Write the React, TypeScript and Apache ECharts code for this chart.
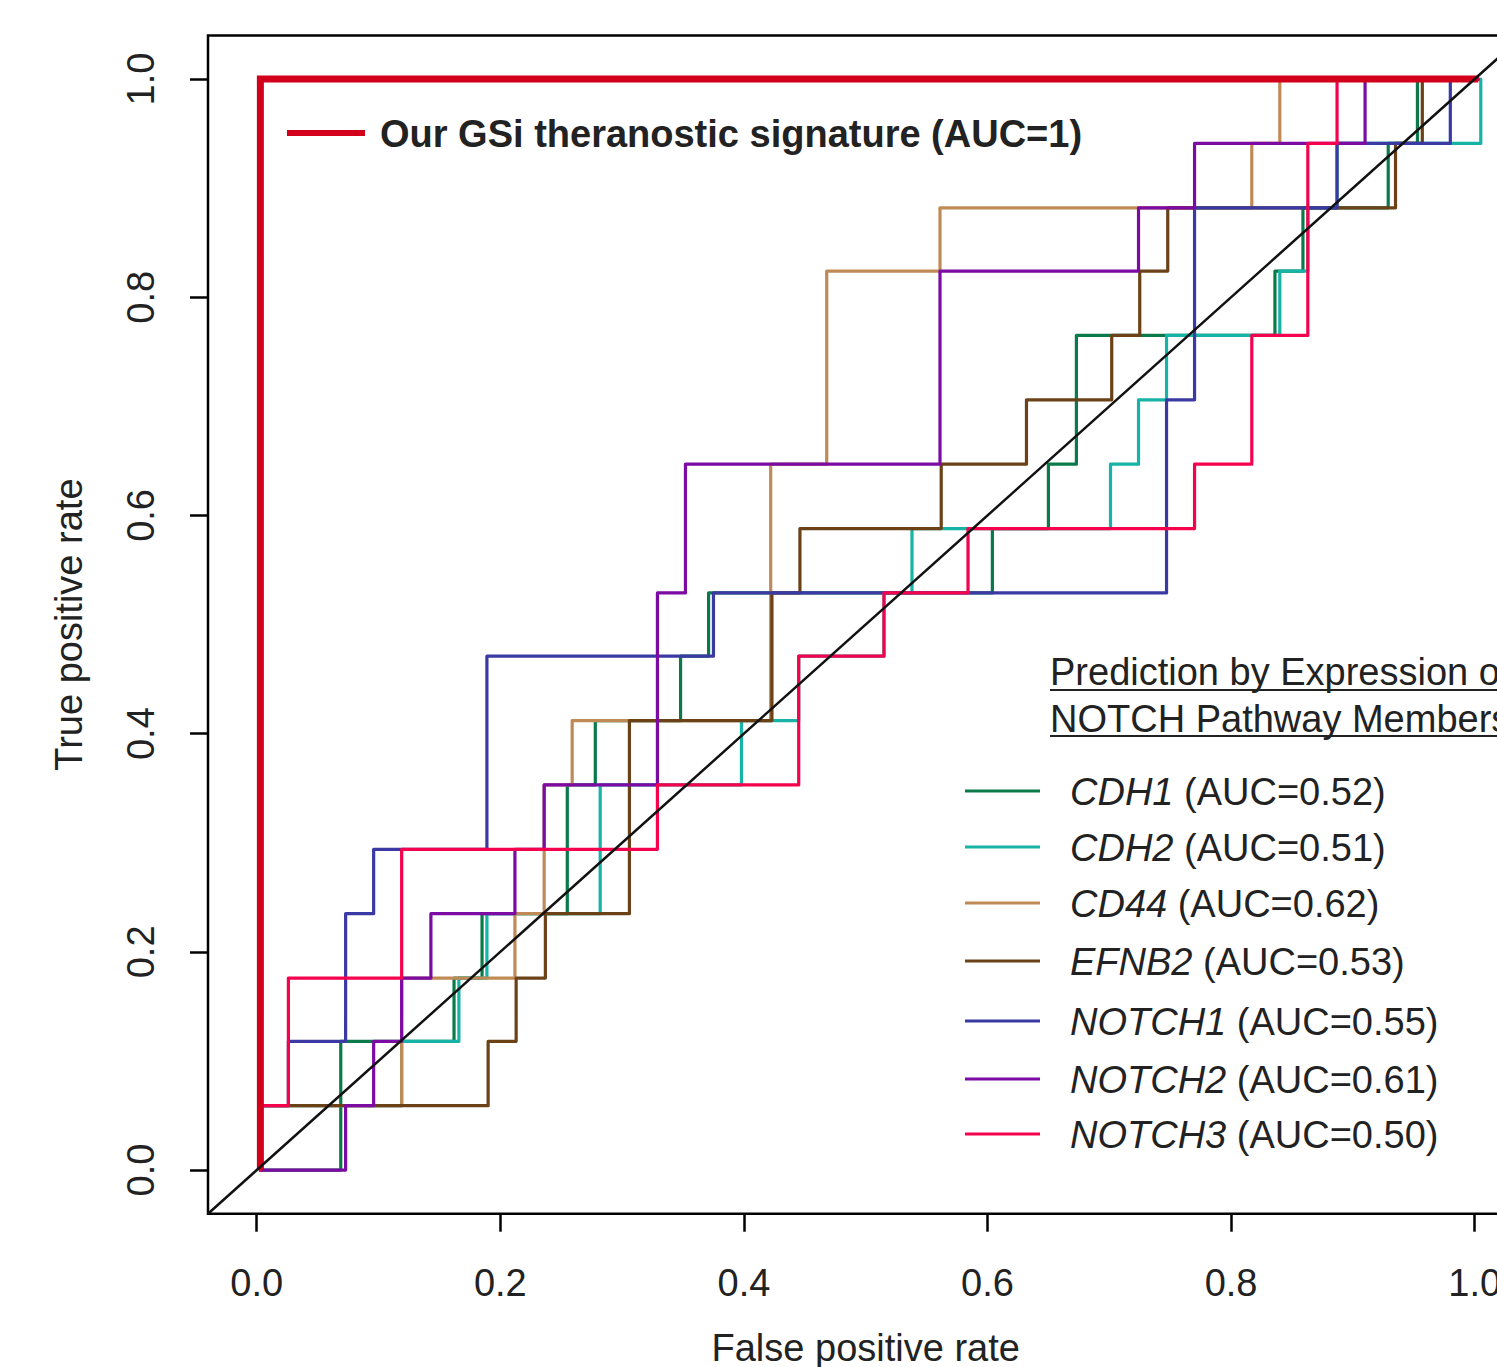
import React, { useEffect, useRef } from 'react';
import * as echarts from 'echarts';

// ---- axis ticks ----
const xTicks = [0, 0.2, 0.4, 0.6, 0.8, 1.0];
const yTicks = [0, 0.2, 0.4, 0.6, 0.8, 1.0];

// ---- ROC curves (corner points: false positive rate / true positive rate) ----
const cdh1Fpr = [0.003, 0.069, 0.069, 0.162, 0.162, 0.185, 0.185, 0.255, 0.255, 0.278, 0.278, 0.348, 0.348, 0.371, 0.371, 0.604, 0.604, 0.650, 0.650, 0.673, 0.673, 0.836, 0.836, 0.859, 0.859, 0.929, 0.929, 0.953, 0.953, 1.003];
const cdh1Tpr = [0, 0, 0.118, 0.118, 0.176, 0.176, 0.235, 0.235, 0.353, 0.353, 0.412, 0.412, 0.471, 0.471, 0.529, 0.529, 0.588, 0.588, 0.647, 0.647, 0.765, 0.765, 0.824, 0.824, 0.882, 0.882, 0.941, 0.941, 1, 1];

const cdh2Fpr = [0.003, 0.003, 0.119, 0.119, 0.166, 0.166, 0.189, 0.189, 0.282, 0.282, 0.398, 0.398, 0.445, 0.445, 0.515, 0.515, 0.538, 0.538, 0.701, 0.701, 0.724, 0.724, 0.747, 0.747, 0.840, 0.840, 0.863, 0.863, 0.887, 0.887, 1.005, 1.005];
const cdh2Tpr = [0, 0.059, 0.059, 0.118, 0.118, 0.176, 0.176, 0.235, 0.235, 0.353, 0.353, 0.412, 0.412, 0.471, 0.471, 0.529, 0.529, 0.588, 0.588, 0.647, 0.647, 0.706, 0.706, 0.765, 0.765, 0.824, 0.824, 0.882, 0.882, 0.941, 0.941, 1];

const cd44Fpr = [0.003, 0.003, 0.119, 0.119, 0.212, 0.212, 0.236, 0.236, 0.259, 0.259, 0.422, 0.422, 0.468, 0.468, 0.561, 0.561, 0.817, 0.817, 0.840, 0.840, 1.003];
const cd44Tpr = [0, 0.059, 0.059, 0.176, 0.176, 0.235, 0.235, 0.353, 0.353, 0.412, 0.412, 0.647, 0.647, 0.824, 0.824, 0.882, 0.882, 0.941, 0.941, 1, 1];

const efnb2Fpr = [0.004, 0.004, 0.190, 0.190, 0.213, 0.213, 0.237, 0.237, 0.306, 0.306, 0.423, 0.423, 0.446, 0.446, 0.562, 0.562, 0.632, 0.632, 0.702, 0.702, 0.725, 0.725, 0.748, 0.748, 0.935, 0.935, 0.957, 0.957, 1.003];
const efnb2Tpr = [0, 0.059, 0.059, 0.118, 0.118, 0.176, 0.176, 0.235, 0.235, 0.412, 0.412, 0.529, 0.529, 0.588, 0.588, 0.647, 0.647, 0.706, 0.706, 0.765, 0.765, 0.824, 0.824, 0.882, 0.882, 0.941, 0.941, 1, 1];

const notch1Fpr = [0.003, 0.003, 0.026, 0.026, 0.073, 0.073, 0.096, 0.096, 0.189, 0.189, 0.375, 0.375, 0.747, 0.747, 0.770, 0.770, 0.887, 0.887, 0.980, 0.980, 1.003];
const notch1Tpr = [0, 0.059, 0.059, 0.118, 0.118, 0.235, 0.235, 0.294, 0.294, 0.471, 0.471, 0.529, 0.529, 0.706, 0.706, 0.882, 0.882, 0.941, 0.941, 1, 1];

const notch2Fpr = [0.003, 0.073, 0.073, 0.096, 0.096, 0.119, 0.119, 0.143, 0.143, 0.212, 0.212, 0.236, 0.236, 0.329, 0.329, 0.352, 0.352, 0.561, 0.561, 0.724, 0.724, 0.770, 0.770, 0.910, 0.910, 1.003];
const notch2Tpr = [0, 0, 0.059, 0.059, 0.118, 0.118, 0.176, 0.176, 0.235, 0.235, 0.294, 0.294, 0.353, 0.353, 0.529, 0.529, 0.647, 0.647, 0.824, 0.824, 0.882, 0.882, 0.941, 0.941, 1, 1];

const notch3Fpr = [0.003, 0.003, 0.026, 0.026, 0.119, 0.119, 0.329, 0.329, 0.445, 0.445, 0.515, 0.515, 0.584, 0.584, 0.770, 0.770, 0.817, 0.817, 0.863, 0.863, 0.887, 0.887, 1.003];
const notch3Tpr = [0, 0.059, 0.059, 0.176, 0.176, 0.294, 0.294, 0.353, 0.353, 0.471, 0.471, 0.529, 0.529, 0.588, 0.588, 0.647, 0.647, 0.765, 0.765, 0.941, 0.941, 1, 1];

const signatureFpr = [0.003, 0.003, 1.003];
const signatureTpr = [0, 1, 1];

const chanceFpr = [-0.04, 1.04];
const chanceTpr = [-0.04, 1.04];

// ---- labels ----
const geneNames = ['CDH1', 'CDH2', 'CD44', 'EFNB2', 'NOTCH1', 'NOTCH2', 'NOTCH3'];
const geneAucs = ['0.52', '0.51', '0.62', '0.53', '0.55', '0.61', '0.50'];
const geneColors = ['#0b7a4b', '#17b3a6', '#c08a57', '#6b4117', '#3b3aa5', '#7b0ba3', '#f5024f'];
const signatureColor = '#d2001a';
const signatureLabel = 'Our GSi theranostic signature (AUC=1)';
const legendTitle = ['Prediction by Expression of', 'NOTCH Pathway Members'];

const FONT = '"Liberation Sans", Arial, Helvetica, sans-serif';
const TEXT = '#222222';

const zip = (xs: number[], ys: number[]) => xs.map((x, i) => [x, ys[i]]);

export default function App() {
  const ref = useRef<HTMLDivElement>(null);

  useEffect(() => {
    if (!ref.current) return;
    const chart = echarts.init(ref.current, undefined, { renderer: 'svg' });

    const geneData = [
      zip(cdh1Fpr, cdh1Tpr),
      zip(cdh2Fpr, cdh2Tpr),
      zip(cd44Fpr, cd44Tpr),
      zip(efnb2Fpr, efnb2Tpr),
      zip(notch1Fpr, notch1Tpr),
      zip(notch2Fpr, notch2Tpr),
      zip(notch3Fpr, notch3Tpr),
    ];

    const series: any[] = geneData.map((d, i) => ({
      type: 'line',
      name: geneNames[i],
      data: d,
      showSymbol: false,
      symbol: 'none',
      silent: true,
      lineStyle: { color: geneColors[i], width: 3.2, cap: 'round', join: 'round' },
    }));
    series.push({
      type: 'line',
      name: 'signature',
      data: zip(signatureFpr, signatureTpr),
      showSymbol: false,
      symbol: 'none',
      silent: true,
      lineStyle: { color: signatureColor, width: 7, cap: 'butt', join: 'miter' },
    });
    series.push({
      type: 'line',
      name: 'chance',
      data: zip(chanceFpr, chanceTpr),
      showSymbol: false,
      symbol: 'none',
      silent: true,
      lineStyle: { color: '#111', width: 2.5 },
    });

    const legendLineY = [791, 847, 903, 961, 1021, 1079, 1134];
    const graphic: any[] = [
      {
        type: 'line',
        shape: { x1: 287, y1: 133, x2: 365, y2: 133 },
        style: { stroke: signatureColor, lineWidth: 6 },
      },
      {
        type: 'text',
        x: 380,
        y: 134,
        style: {
          text: signatureLabel,
          fontSize: 38,
          fontWeight: 'bold',
          fontFamily: FONT,
          fill: TEXT,
          verticalAlign: 'middle',
        },
      },
      {
        type: 'text',
        x: 1050,
        y: 672,
        style: { text: legendTitle[0], fontSize: 38, fontFamily: FONT, fill: TEXT, verticalAlign: 'middle' },
      },
      {
        type: 'line',
        shape: { x1: 1050, y1: 690, x2: 1540, y2: 690 },
        style: { stroke: TEXT, lineWidth: 2 },
      },
      {
        type: 'text',
        x: 1050,
        y: 719,
        style: { text: legendTitle[1], fontSize: 38, fontFamily: FONT, fill: TEXT, verticalAlign: 'middle' },
      },
      {
        type: 'line',
        shape: { x1: 1050, y1: 736, x2: 1540, y2: 736 },
        style: { stroke: TEXT, lineWidth: 2 },
      },
    ];
    geneNames.forEach((g, i) => {
      graphic.push({
        type: 'line',
        shape: { x1: 965, y1: legendLineY[i], x2: 1040, y2: legendLineY[i] },
        style: { stroke: geneColors[i], lineWidth: 3 },
      });
      graphic.push({
        type: 'text',
        x: 1070,
        y: legendLineY[i] + 1,
        style: {
          text: `{i|${g}} (AUC=${geneAucs[i]})`,
          fontSize: 38,
          fontFamily: FONT,
          fill: TEXT,
          verticalAlign: 'middle',
          rich: {
            i: { fontStyle: 'italic', fontSize: 38, fontFamily: FONT, fill: TEXT },
          },
        },
      });
    });

    const option: any = {
      animation: false,
      backgroundColor: '#ffffff',
      grid: {
        left: 208,
        top: 35.4,
        width: 1315.4,
        height: 1178.3,
        show: true,
        borderColor: '#000',
        borderWidth: 2.5,
        backgroundColor: 'transparent',
        containLabel: false,
        outerBoundsMode: 'none',
      },
      xAxis: {
        type: 'value',
        min: -0.04,
        max: 1.04,
        axisLine: { show: false, onZero: false },
        axisTick: { show: true, length: 18, lineStyle: { color: '#000', width: 2.5 }, customValues: xTicks },
        axisLabel: {
          customValues: xTicks,
          formatter: (v: number) => v.toFixed(1),
          fontSize: 38,
          fontFamily: FONT,
          color: TEXT,
          margin: 50,
        },
        splitLine: { show: false },
        name: 'False positive rate',
        nameLocation: 'middle',
        nameGap: 115,
        nameTextStyle: { fontSize: 38, fontFamily: FONT, color: TEXT },
      },
      yAxis: {
        type: 'value',
        min: -0.04,
        max: 1.04,
        axisLine: { show: false, onZero: false },
        axisTick: { show: true, length: 18, lineStyle: { color: '#000', width: 2.5 }, customValues: yTicks },
        axisLabel: {
          customValues: yTicks,
          formatter: (v: number) => v.toFixed(1),
          fontSize: 38,
          fontFamily: FONT,
          color: TEXT,
          margin: 48,
          rotate: 90,
        },
        splitLine: { show: false },
        name: 'True positive rate',
        nameLocation: 'middle',
        nameGap: 120,
        nameTextStyle: { fontSize: 38, fontFamily: FONT, color: TEXT },
      },
      series,
      graphic,
    };

    chart.setOption(option);
    return () => chart.dispose();
  }, []);

  return (
    <div
      style={{
        position: 'fixed',
        left: 0,
        top: 0,
        width: 1497,
        height: 1367,
        overflow: 'hidden',
        background: '#fff',
      }}
    >
      <div ref={ref} style={{ width: 1560, height: 1367 }} />
    </div>
  );
}
